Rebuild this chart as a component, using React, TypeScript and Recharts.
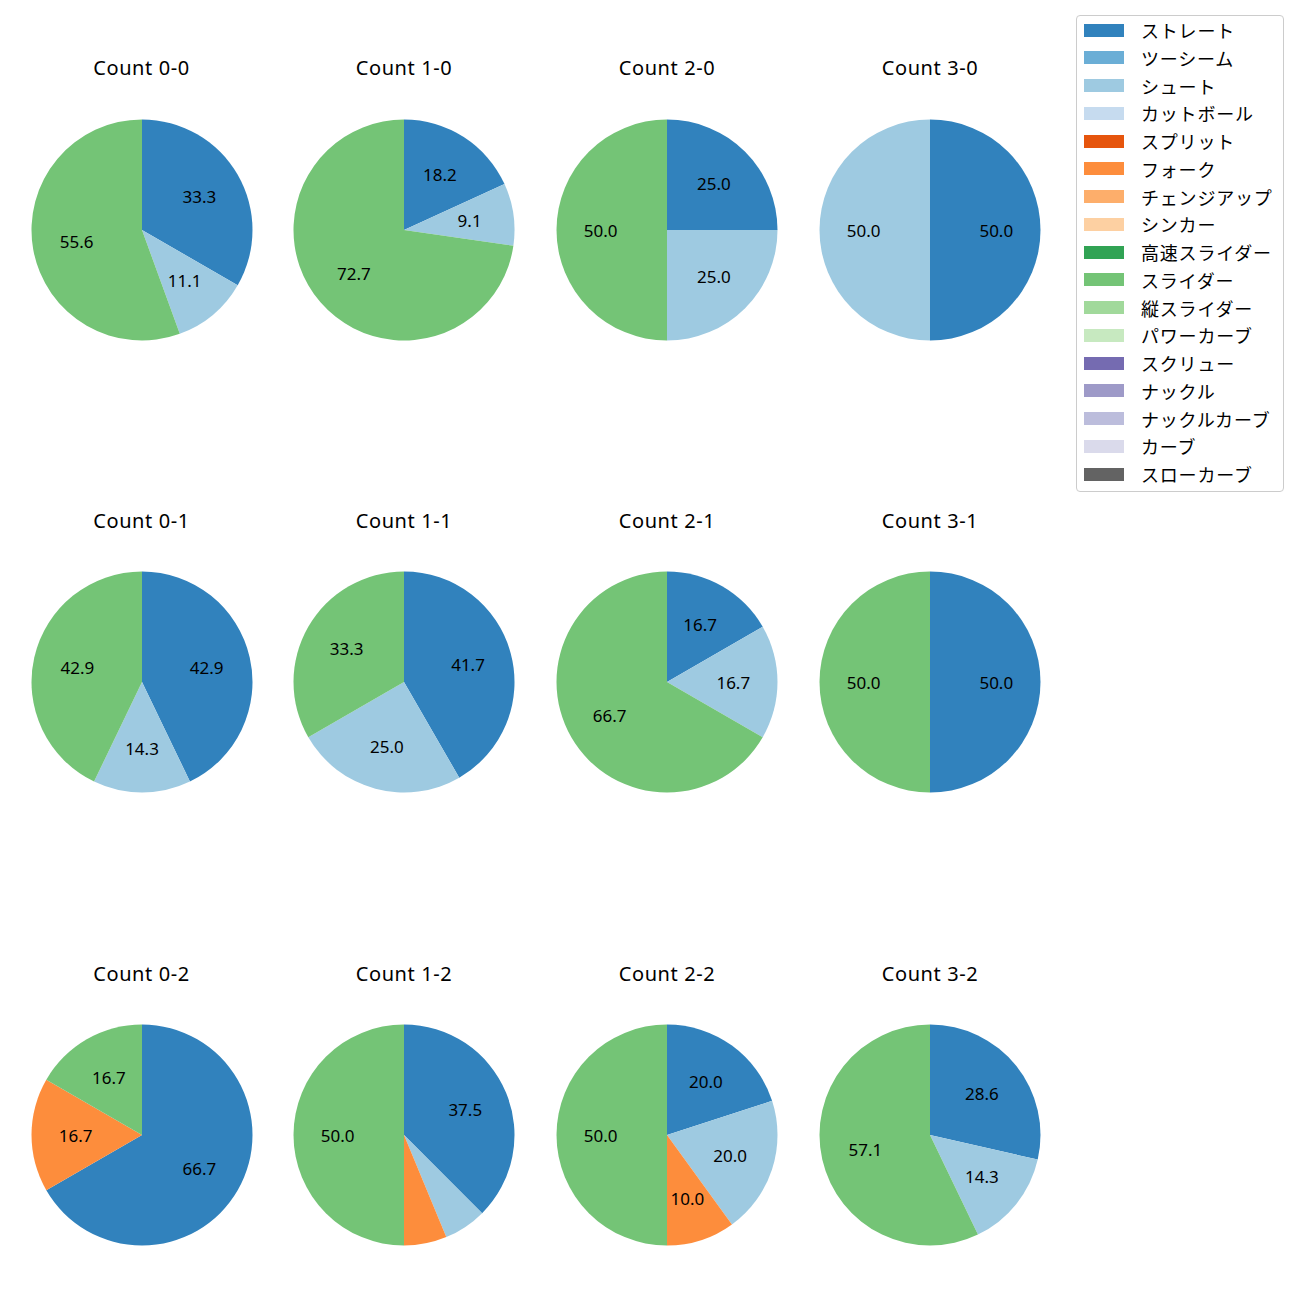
import { PieChart, Pie, Cell } from "recharts";

const pitchTypes = [
  "ストレート",
  "ツーシーム",
  "シュート",
  "カットボール",
  "スプリット",
  "フォーク",
  "チェンジアップ",
  "シンカー",
  "高速スライダー",
  "スライダー",
  "縦スライダー",
  "パワーカーブ",
  "スクリュー",
  "ナックル",
  "ナックルカーブ",
  "カーブ",
  "スローカーブ",
];

const pitchColors = [
  "#3182bd",
  "#6baed6",
  "#9ecae1",
  "#c6dbef",
  "#e6550d",
  "#fd8d3c",
  "#fdae6b",
  "#fdd0a2",
  "#31a354",
  "#74c476",
  "#a1d99b",
  "#c7e9c0",
  "#756bb1",
  "#9e9ac8",
  "#bcbddc",
  "#dadaeb",
  "#636363",
];

// pitch counts per ball-strike count: [pitch type, count]
const count00: [string, number][] = [["ストレート", 3], ["シュート", 1], ["スライダー", 5]];
const count10: [string, number][] = [["ストレート", 2], ["シュート", 1], ["スライダー", 8]];
const count20: [string, number][] = [["ストレート", 1], ["シュート", 1], ["スライダー", 2]];
const count30: [string, number][] = [["ストレート", 1], ["シュート", 1]];
const count01: [string, number][] = [["ストレート", 3], ["シュート", 1], ["スライダー", 3]];
const count11: [string, number][] = [["ストレート", 5], ["シュート", 3], ["スライダー", 4]];
const count21: [string, number][] = [["ストレート", 1], ["シュート", 1], ["スライダー", 4]];
const count31: [string, number][] = [["ストレート", 1], ["スライダー", 1]];
const count02: [string, number][] = [["ストレート", 4], ["フォーク", 1], ["スライダー", 1]];
const count12: [string, number][] = [["ストレート", 6], ["シュート", 1], ["フォーク", 1], ["スライダー", 8]];
const count22: [string, number][] = [["ストレート", 2], ["シュート", 2], ["フォーク", 1], ["スライダー", 5]];
const count32: [string, number][] = [["ストレート", 2], ["シュート", 1], ["スライダー", 4]];

const panels = [
  { title: "Count 0-0", rows: count00 },
  { title: "Count 1-0", rows: count10 },
  { title: "Count 2-0", rows: count20 },
  { title: "Count 3-0", rows: count30 },
  { title: "Count 0-1", rows: count01 },
  { title: "Count 1-1", rows: count11 },
  { title: "Count 2-1", rows: count21 },
  { title: "Count 3-1", rows: count31 },
  { title: "Count 0-2", rows: count02 },
  { title: "Count 1-2", rows: count12 },
  { title: "Count 2-2", rows: count22 },
  { title: "Count 3-2", rows: count32 },
];

const FONT = "'Noto Sans', 'Noto Sans CJK JP', sans-serif";
const JP_FONT = "'Noto Sans CJK JP', sans-serif";
const colX = [141.5, 404, 667, 930];
const rowY = [229.5, 682, 1135];
const R = 110.5;
const BOX = 240;
const RADIAN = Math.PI / 180;

function renderLabel(props: any) {
  const { cx, cy, midAngle, outerRadius, percent } = props;
  const pct = percent * 100;
  if (pct < 8) return null;
  const r = outerRadius * 0.6;
  const x = cx + r * Math.cos(-midAngle * RADIAN);
  const y = cy + r * Math.sin(-midAngle * RADIAN);
  return (
    <text
      x={x}
      y={y}
      fill="#000"
      textAnchor="middle"
      dominantBaseline="central"
      fontSize={17}
      fontFamily={FONT}
    >
      {pct.toFixed(1)}
    </text>
  );
}

function CountPie({ title, rows, cx, cy }: { title: string; rows: [string, number][]; cx: number; cy: number }) {
  const data = rows.map(([name, value]) => ({ name, value }));
  return (
    <>
      <div
        style={{
          position: "absolute",
          left: cx - 100,
          top: cy - 171.5,
          width: 200,
          textAlign: "center",
          fontSize: 20,
          lineHeight: "20px",
          letterSpacing: 0.6,
          fontFamily: FONT,
          color: "#000",
        }}
      >
        {title}
      </div>
      <div style={{ position: "absolute", left: cx - BOX / 2, top: cy - BOX / 2 }}>
        <PieChart width={BOX} height={BOX} margin={{ top: 0, right: 0, bottom: 0, left: 0 }}>
          <Pie
            data={data}
            dataKey="value"
            nameKey="name"
            cx={BOX / 2}
            cy={BOX / 2}
            outerRadius={R}
            startAngle={90}
            endAngle={-270}
            stroke="none"
            label={renderLabel}
            labelLine={false}
            isAnimationActive={false}
          >
            {data.map((d) => (
              <Cell key={d.name} fill={pitchColors[pitchTypes.indexOf(d.name)]} />
            ))}
          </Pie>
        </PieChart>
      </div>
    </>
  );
}

export default function App() {
  return (
    <div
      style={{
        position: "absolute",
        left: 0,
        top: 0,
        width: 1300,
        height: 1300,
        background: "#fff",
        fontFamily: FONT,
      }}
    >
      {panels.map((p, i) => (
        <CountPie key={p.title} title={p.title} rows={p.rows} cx={colX[i % 4]} cy={rowY[Math.floor(i / 4)]} />
      ))}
      <div
        style={{
          position: "absolute",
          left: 1076,
          top: 15,
          width: 208,
          height: 477,
          border: "1px solid #cccccc",
          borderRadius: 4,
          boxSizing: "border-box",
        }}
      >
        {pitchTypes.map((name, i) => (
          <div
            key={name}
            style={{
              position: "absolute",
              left: 0,
              top: i * 27.75,
              height: 28,
              width: "100%",
              display: "flex",
              alignItems: "center",
            }}
          >
            <div style={{ marginLeft: 7, width: 40, height: 13, background: pitchColors[i] }} />
            <div
              style={{
                marginLeft: 17,
                fontSize: 18,
                letterSpacing: 0.8,
                fontFamily: JP_FONT,
                color: "#000",
                whiteSpace: "nowrap",
              }}
            >
              {name}
            </div>
          </div>
        ))}
      </div>
    </div>
  );
}
